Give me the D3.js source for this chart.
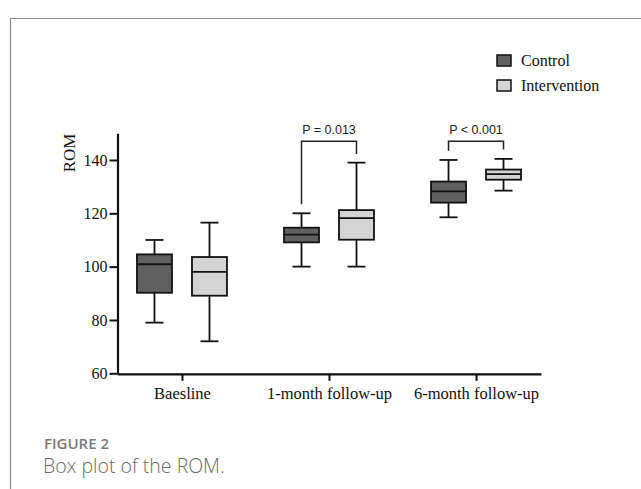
<!DOCTYPE html>
<html>
<head>
<meta charset="utf-8">
<script src="https://cdn.jsdelivr.net/npm/d3@7"></script>
<style>
  html, body { margin: 0; padding: 0; background: #fff; }
  svg { display: block; }
</style>
</head>
<body>
<svg id="chart" width="641" height="489"></svg>
<script>
// ---- data ----
const categories = ["Baesline", "1-month follow-up", "6-month follow-up"];
const groups = ["Control", "Intervention"];
// [whiskerLow, Q1, median, Q3, whiskerHigh]
const controlStats = [
  [79, 90.2, 100.9, 104.6, 110],
  [100, 109.1, 112, 114.6, 120],
  [118.5, 124, 128.2, 131.9, 140]
];
const interventionStats = [
  [72, 89.1, 98, 103.6, 116.5],
  [100, 110.1, 118.2, 121.2, 139],
  [128.5, 132.6, 134.7, 136.4, 140.4]
];
const yTicks = [60, 80, 100, 120, 140];
// significance brackets: category index, top value, left end value, right end value, label
const brackets = [
  { cat: 1, top: 147, left: 123.4, right: 142.2, label: "P = 0.013" },
  { cat: 2, top: 147, left: 143.5, right: 143.9, label: "P < 0.001" }
];
const fills = { Control: "#606060", Intervention: "#d4d4d4" };

// ---- drawing ----
const svg = d3.select("#chart");

// figure frame (top + left rule)
svg.append("path")
  .attr("d", "M10.5,489 V18.5 H641")
  .attr("fill", "none").attr("stroke", "#8a8a8a").attr("stroke-width", 1.2);

const x = d3.scalePoint().domain(categories).range([117, 541]).padding(0.442);
const y = d3.scaleLinear().domain([60, 150]).range([373.3, 133.3]);
const offset = d3.scalePoint().domain(groups).range([-27.5, 27.5]);
const boxW = 35, capW = 18;

const serif = "'Liberation Serif', 'Times New Roman', serif";

// axes
const yAxis = svg.append("g").attr("transform", "translate(117.5,0)")
  .call(d3.axisLeft(y).tickValues(yTicks).tickSize(8).tickSizeOuter(0).tickPadding(2));
const xAxis = svg.append("g").attr("transform", `translate(0,${y(60) + 0.5})`)
  .call(d3.axisBottom(x).tickSize(7).tickSizeOuter(0).tickPadding(6));
[yAxis, xAxis].forEach(g => {
  g.select(".domain").attr("stroke", "#111").attr("stroke-width", 2.2);
  g.selectAll(".tick line").attr("stroke", "#111").attr("stroke-width", 2);
  g.selectAll("text").attr("fill", "#111").style("font-family", serif).style("font-size", "16px");
});
xAxis.selectAll("text").style("font-size", "16.5px");

// y label
svg.append("text")
  .attr("transform", `translate(75,153) rotate(-90)`)
  .attr("text-anchor", "middle")
  .style("font-family", serif).style("font-size", "17px").attr("fill", "#111")
  .text("ROM");

// boxes
const allStats = [
  { group: "Control", stats: controlStats },
  { group: "Intervention", stats: interventionStats }
];
allStats.forEach(s => {
  s.stats.forEach((st, i) => {
    const cx = x(categories[i]) + offset(s.group);
    const g = svg.append("g");
    const [lo, q1, med, q3, hi] = st;
    // whiskers
    g.append("line").attr("x1", cx).attr("x2", cx).attr("y1", y(hi)).attr("y2", y(q3))
      .attr("stroke", "#111").attr("stroke-width", 1.8);
    g.append("line").attr("x1", cx).attr("x2", cx).attr("y1", y(q1)).attr("y2", y(lo))
      .attr("stroke", "#111").attr("stroke-width", 1.8);
    [lo, hi].forEach(v => g.append("line")
      .attr("x1", cx - capW / 2).attr("x2", cx + capW / 2).attr("y1", y(v)).attr("y2", y(v))
      .attr("stroke", "#111").attr("stroke-width", 1.8));
    g.append("rect").attr("x", cx - boxW / 2).attr("width", boxW)
      .attr("y", y(q3)).attr("height", y(q1) - y(q3))
      .attr("fill", fills[s.group]).attr("stroke", "#111").attr("stroke-width", 1.8);
    g.append("line").attr("x1", cx - boxW / 2).attr("x2", cx + boxW / 2)
      .attr("y1", y(med)).attr("y2", y(med)).attr("stroke", "#111").attr("stroke-width", 1.8);
  });
});

// brackets
brackets.forEach(b => {
  const xl = x(categories[b.cat]) + offset("Control");
  const xr = x(categories[b.cat]) + offset("Intervention");
  svg.append("path")
    .attr("d", `M${xl},${y(b.left)} V${y(b.top)} H${xr} V${y(b.right)}`)
    .attr("fill", "none").attr("stroke", "#222").attr("stroke-width", 1.5);
  svg.append("text")
    .attr("x", (xl + xr) / 2).attr("y", y(b.top) - 7)
    .attr("text-anchor", "middle")
    .style("font-family", "'Liberation Sans', Arial, sans-serif").style("font-size", "12.5px")
    .attr("fill", "#222").text(b.label);
});

// legend
const legend = svg.append("g");
groups.forEach((gname, i) => {
  const ly = 55 + i * 25;
  legend.append("rect").attr("x", 497).attr("y", ly).attr("width", 14).attr("height", 11)
    .attr("fill", fills[gname]).attr("stroke", "#111").attr("stroke-width", 1.5);
  legend.append("text").attr("x", 521).attr("y", ly + 11)
    .style("font-family", serif).style("font-size", "16px").attr("fill", "#111").text(gname);
});

// caption
svg.append("text").attr("x", 44).attr("y", 449)
  .style("font-family", "'Open Sans', sans-serif").style("font-size", "15px").style("font-weight", 600)
  .attr("fill", "#7a7a7a").text("FIGURE 2");
svg.append("text").attr("x", 43).attr("y", 473)
  .style("font-family", "'Open Sans', sans-serif").style("font-size", "19.5px").style("font-weight", 300)
  .attr("fill", "#6a6a6a").text("Box plot of the ROM.");
</script>
</body>
</html>
